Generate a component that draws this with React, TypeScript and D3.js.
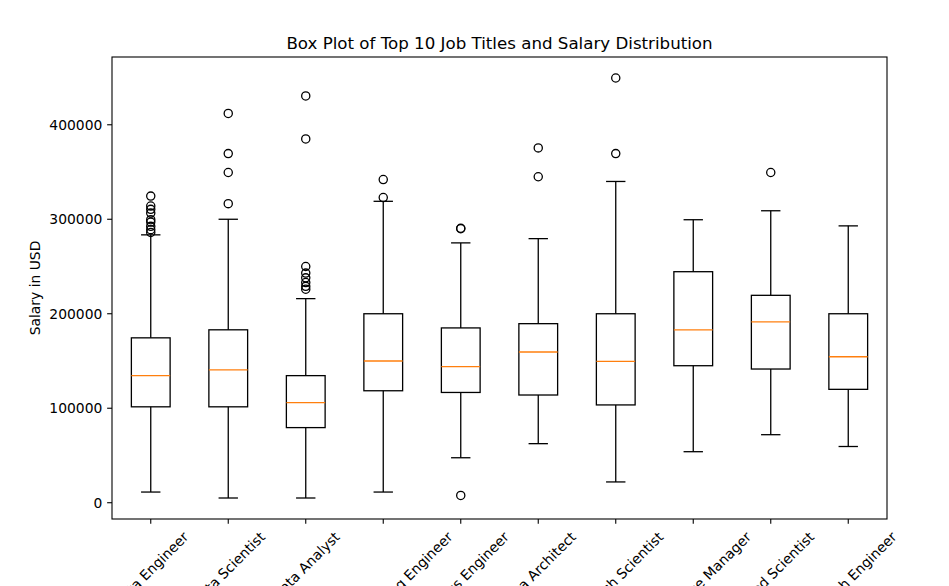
import React from "react";
import * as d3 from "d3";

const categories = [
  "Data Engineer",
  "Data Scientist",
  "Data Analyst",
  "Machine Learning Engineer",
  "Analytics Engineer",
  "Data Architect",
  "Research Scientist",
  "Data Science Manager",
  "Applied Scientist",
  "Research Engineer",
];

const whiskerLow = [11300, 5000, 5000, 11300, 47600, 62500, 22000, 54000, 72000, 59500];
const q1 = [101500, 101500, 79500, 118500, 116700, 114000, 103500, 145000, 141500, 120000];
const median = [134500, 140500, 106000, 150000, 144000, 159500, 149500, 183000, 191500, 154500];
const q3 = [174500, 183000, 134500, 200000, 185000, 189500, 200000, 244500, 219500, 200000];
const whiskerHigh = [283500, 300000, 216000, 319000, 275000, 279500, 340000, 299500, 309000, 293000];

const outliers: number[][] = [
  [286000, 289000, 292500, 297000, 299500, 306500, 310500, 314000, 324500],
  [316500, 349500, 369500, 412000],
  [226000, 229000, 233000, 238000, 243000, 250000, 385000, 430500],
  [323000, 342000],
  [7700, 290000, 290500],
  [345000, 375500],
  [369500, 449500],
  [],
  [349500],
  [],
];

const title = "Box Plot of Top 10 Job Titles and Salary Distribution";
const yLabel = "Salary in USD";

const W = 949;
const H = 586;
const left = 112;
const right = 887;
const top = 57;
const bottom = 519;
const FONT = "'DejaVu Sans', sans-serif";
const tickFs = 13.89;

function measure(text: string, size: number): number {
  const c = document.createElement("canvas");
  const ctx = c.getContext("2d");
  if (!ctx) return text.length * size * 0.6;
  ctx.font = `${size}px 'DejaVu Sans'`;
  return ctx.measureText(text).width;
}

export default function App() {
  const allVals = [
    ...whiskerLow,
    ...whiskerHigh,
    ...outliers.flat(),
  ];
  const dmin = d3.min(allVals)!;
  const dmax = d3.max(allVals)!;
  const pad = (dmax - dmin) * 0.05;

  const y = d3.scaleLinear().domain([dmin - pad, dmax + pad]).range([bottom, top]);
  const x = d3
    .scaleLinear()
    .domain([0.5, categories.length + 0.5])
    .range([left, right]);
  const boxW = x(1.25) - x(1);
  const capW = x(1.125) - x(1);
  const yTicks = y.ticks(5).filter((t) => t >= 0);
  const fmt = d3.format("d");
  const lw = 1.3;

  return (
    <svg
      width={W}
      height={H}
      style={{ position: "absolute", left: 0, top: 0, background: "#fff" }}
      fontFamily={FONT}
    >
      <rect x={0} y={0} width={W} height={H} fill="#fff" />
      {categories.map((c, i) => {
        const cx = x(i + 1);
        return (
          <g key={c}>
            <line x1={cx} x2={cx} y1={y(q1[i])} y2={y(whiskerLow[i])} stroke="#000" strokeWidth={lw} />
            <line x1={cx} x2={cx} y1={y(q3[i])} y2={y(whiskerHigh[i])} stroke="#000" strokeWidth={lw} />
            <line x1={cx - capW} x2={cx + capW} y1={y(whiskerLow[i])} y2={y(whiskerLow[i])} stroke="#000" strokeWidth={lw} />
            <line x1={cx - capW} x2={cx + capW} y1={y(whiskerHigh[i])} y2={y(whiskerHigh[i])} stroke="#000" strokeWidth={lw} />
            <rect
              x={cx - boxW}
              y={y(q3[i])}
              width={boxW * 2}
              height={y(q1[i]) - y(q3[i])}
              fill="none"
              stroke="#000"
              strokeWidth={lw}
            />
            <line x1={cx - boxW} x2={cx + boxW} y1={y(median[i])} y2={y(median[i])} stroke="#ff7f0e" strokeWidth={lw} />
            {outliers[i].map((v, j) => (
              <circle key={j} cx={cx} cy={y(v)} r={4.1} fill="none" stroke="#000" strokeWidth={1.3} />
            ))}
          </g>
        );
      })}
      {/* axes frame */}
      <rect x={left} y={top} width={right - left} height={bottom - top} fill="none" stroke="#000" strokeWidth={1.1} />
      {/* y ticks */}
      {yTicks.map((t) => (
        <g key={t}>
          <line x1={left - 4.86} x2={left} y1={y(t)} y2={y(t)} stroke="#000" strokeWidth={1.1} />
          <text x={left - 9.7} y={y(t)} dy="0.346em" textAnchor="end" fontSize={tickFs} fill="#000">
            {fmt(t)}
          </text>
        </g>
      ))}
      {/* x ticks */}
      {categories.map((c, i) => {
        const cx = x(i + 1);
        const w = measure(c, tickFs);
        const h = 16.2;
        const bb = (w + h) * Math.SQRT1_2;
        const cy = bottom + 9.7 + bb / 2;
        return (
          <g key={c}>
            <line x1={cx} x2={cx} y1={bottom} y2={bottom + 4.86} stroke="#000" strokeWidth={1.1} />
            <text
              transform={`translate(${cx},${cy}) rotate(-45)`}
              textAnchor="middle"
              dy="0.346em"
              fontSize={tickFs}
              fill="#000"
            >
              {c}
            </text>
          </g>
        );
      })}
      <text
        transform={`translate(35.6,${(top + bottom) / 2}) rotate(-90)`}
        textAnchor="middle"
        dy="0.346em"
        fontSize={tickFs}
        fill="#000"
      >
        {yLabel}
      </text>
      <text x={(left + right) / 2} y={48.6} textAnchor="middle" fontSize={16.67} fill="#000">
        {title}
      </text>
    </svg>
  );
}
